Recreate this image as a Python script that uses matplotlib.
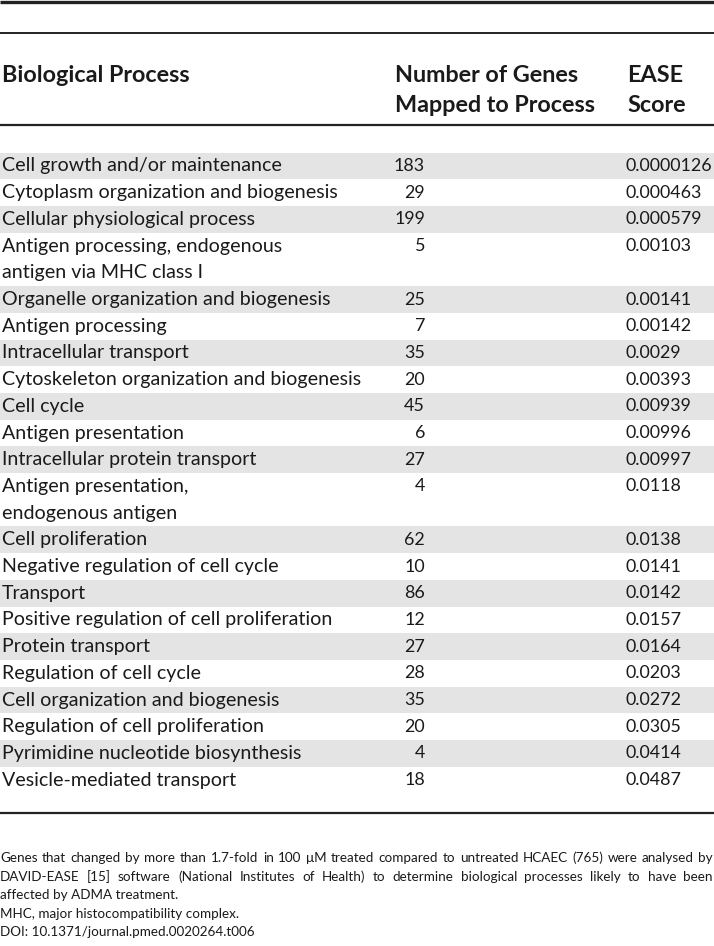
import matplotlib
matplotlib.use('Agg')
import matplotlib.pyplot as plt
from matplotlib.patches import Rectangle

# table contents
processes = [
    'Cell growth and/or maintenance',
    'Cytoplasm organization and biogenesis',
    'Cellular physiological process',
    'Antigen processing, endogenous\nantigen via MHC class I',
    'Organelle organization and biogenesis',
    'Antigen processing',
    'Intracellular transport',
    'Cytoskeleton organization and biogenesis',
    'Cell cycle',
    'Antigen presentation',
    'Intracellular protein transport',
    'Antigen presentation,\nendogenous antigen',
    'Cell proliferation',
    'Negative regulation of cell cycle',
    'Transport',
    'Positive regulation of cell proliferation',
    'Protein transport',
    'Regulation of cell cycle',
    'Cell organization and biogenesis',
    'Regulation of cell proliferation',
    'Pyrimidine nucleotide biosynthesis',
    'Vesicle-mediated transport',
]
genes = [183, 29, 199, 5, 25, 7, 35, 20, 45, 6, 27, 4, 62, 10, 86, 12, 27, 28, 35, 20, 4, 18]
ease = ['0.0000126', '0.000463', '0.000579', '0.00103', '0.00141', '0.00142', '0.0029',
        '0.00393', '0.00939', '0.00996', '0.00997', '0.0118', '0.0138', '0.0141', '0.0142',
        '0.0157', '0.0164', '0.0203', '0.0272', '0.0305', '0.0414', '0.0487']
headers = ['Biological Process', 'Number of Genes\nMapped to Process', 'EASE\nScore']
footnote_lines = [
    'Genes that changed by more than 1.7-fold in 100 \u03bcM treated compared to untreated HCAEC (765) were analysed by',
    'DAVID-EASE [15] software (National Institutes of Health) to determine biological processes likely to have been',
    'affected by ADMA treatment.',
    'MHC, major histocompatibility complex.',
    'DOI: 10.1371/journal.pmed.0020264.t006',
]

W, H = 714, 946
fam = ['Lato', 'DejaVu Sans']
ink = '#1a1a1a'

fig = plt.figure(figsize=(W / 100, H / 100), dpi=100)
ax = fig.add_axes([0, 0, 1, 1])
ax.set_xlim(0, W)
ax.set_ylim(H, 0)
ax.axis('off')
renderer = fig.canvas.get_renderer()


def text_width(s, size, weight='normal'):
    t = ax.text(0, 0, s, fontsize=size, family=fam, fontweight=weight)
    w = t.get_window_extent(renderer=renderer).width
    t.remove()
    return w


def fit_size(s, target, weight='normal'):
    return 10 * target / text_width(s, 10, weight)


name_fs = fit_size('Cytoskeleton organization and biogenesis', 360)
num_fs = fit_size('0.0000126', 87)
head_fs = fit_size('Mapped to Process', 201, 'bold')
foot_fs = fit_size('DOI: 10.1371/journal.pmed.0020264.t006', 255)

# rules
for y, lw in [(2, 2.4), (33, 1.4), (125, 1.6), (813, 1.6)]:
    ax.plot([0, W], [y, y], color='#222222', lw=lw, solid_capstyle='butt')

# header
head_y = [75, 105]
head_x = [2, 395, 627]
for x, h in zip(head_x, headers):
    for k, part in enumerate(h.split('\n')):
        ax.text(x, head_y[k], part, fontsize=head_fs, fontweight='bold', family=fam,
                color=ink, ha='left', va='center')

# body rows
y0, step = 166, 26.7
line = 0
for i, (name, n, e) in enumerate(zip(processes, genes, ease)):
    parts = name.split('\n')
    yc = y0 + line * step
    if i % 2 == 0:
        ax.add_patch(Rectangle((0, yc - step / 2), W, step * len(parts),
                               facecolor='#e4e4e4', edgecolor='none', zorder=0))
    for k, part in enumerate(parts):
        ax.text(2, yc + k * step, part, fontsize=name_fs, family=fam, color=ink,
                ha='left', va='center')
    ax.text(425, yc, str(n), fontsize=num_fs, family=fam, color=ink, ha='right', va='center')
    ax.text(625, yc, e, fontsize=num_fs, family=fam, color=ink, ha='left', va='center')
    line += len(parts)

# footnote, first two lines justified
foot_y0, foot_step = 858, 18.5
for k, txt in enumerate(footnote_lines):
    y = foot_y0 + k * foot_step
    if k < 2:
        words = txt.split(' ')
        widths = [text_width(w, foot_fs) for w in words]
        gap = (713 - sum(widths)) / (len(words) - 1)
        x = 0
        for w, wd in zip(words, widths):
            ax.text(x, y, w, fontsize=foot_fs, family=fam, color=ink, ha='left', va='center')
            x += wd + gap
    else:
        ax.text(0, y, txt, fontsize=foot_fs, family=fam, color=ink, ha='left', va='center')

fig.savefig('out.png', dpi=100)
